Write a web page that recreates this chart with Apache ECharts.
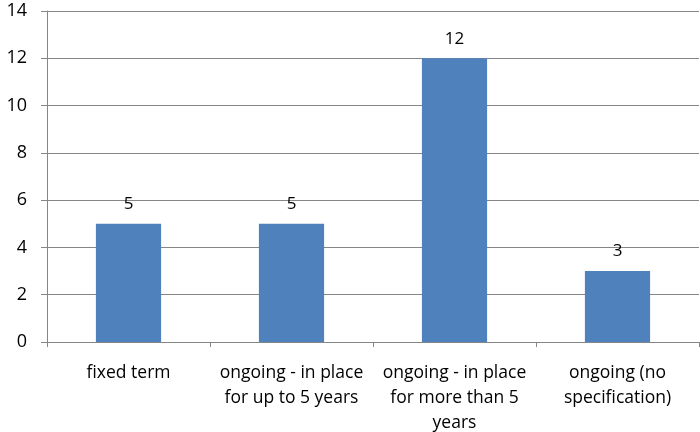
<!DOCTYPE html>
<html>
<head>
<meta charset="utf-8">
<script src="https://cdn.jsdelivr.net/npm/echarts@6/dist/echarts.min.js"></script>
<style>
html,body{margin:0;padding:0;background:#fff;}
#chart{width:700px;height:432px;}
</style>
</head>
<body>
<div id="chart"></div>
<script>
// Contract types and the number of cases in each
const categories = [
  'fixed term',
  'ongoing - in place\nfor up to 5 years',
  'ongoing - in place\nfor more than 5\nyears',
  'ongoing (no\nspecification)'
];
const counts = [5, 5, 12, 3];
const yTicks = { min: 0, max: 14, interval: 2 };

const chart = echarts.init(document.getElementById('chart'), null, { renderer: 'canvas' });
const font = '"Open Sans", Lato, sans-serif';
chart.setOption({
  animation: false,
  grid: {
    left: 47, right: 1, top: 11, bottom: 90,
    containLabel: false, outerBoundsMode: 'none'
  },
  xAxis: {
    type: 'category',
    data: categories,
    axisLine: { show: true, lineStyle: { color: '#868686', width: 1 } },
    axisTick: { show: true, alignWithLabel: false, length: 5, lineStyle: { color: '#868686' } },
    axisLabel: {
      color: '#000', fontFamily: font, fontSize: 17.5, lineHeight: 25,
      margin: 19, interval: 0
    }
  },
  yAxis: {
    type: 'value',
    min: yTicks.min, max: yTicks.max, interval: yTicks.interval,
    axisLine: { show: true, lineStyle: { color: '#868686', width: 1 } },
    axisTick: { show: true, length: 6, lineStyle: { color: '#868686' } },
    splitLine: { show: true, lineStyle: { color: '#868686', width: 1 } },
    axisLabel: { color: '#000', fontFamily: font, fontSize: 18, margin: 20 }
  },
  series: [{
    type: 'bar',
    data: counts,
    barWidth: '40%',
    itemStyle: { color: '#4F81BD' },
    label: {
      show: true, position: 'top', distance: 11,
      color: '#000', fontFamily: font, fontSize: 17
    }
  }]
});
</script>
</body>
</html>
